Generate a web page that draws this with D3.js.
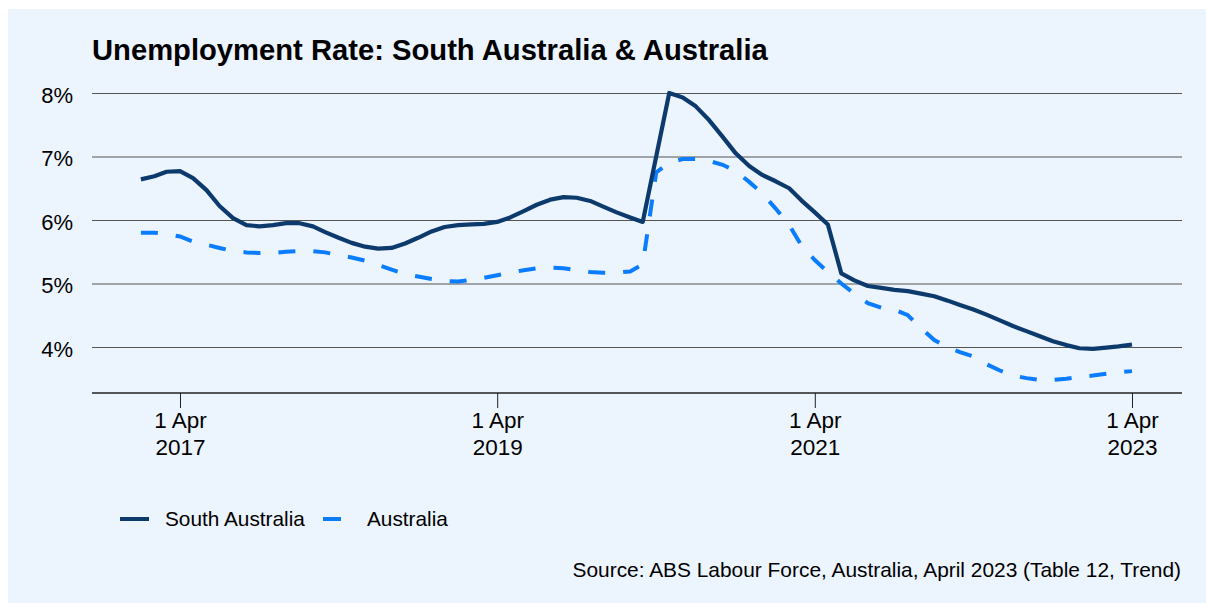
<!DOCTYPE html>
<html lang="en">
<head>
  <meta charset="UTF-8">
  <title>Unemployment Rate: South Australia & Australia</title>
  <style>
    body { margin: 0; background: #ffffff; }
    svg { display: block; font-family: "Liberation Sans", Arial, sans-serif; }
  </style>
</head>
<body>
  <svg id="chart" width="1206" height="603"></svg>

  <script src="https://cdn.jsdelivr.net/npm/d3@7"></script>
  <script type="text/javascript">

    // monthly, Jan 2017 .. Apr 2023 (trend)
    var startMonth = "2017-01";
    var southAustralia = [
      6.64, 6.69, 6.76, 6.77, 6.66, 6.47, 6.22, 6.03, 5.92, 5.90, 5.92, 5.95,
      5.95, 5.90, 5.81, 5.72, 5.64, 5.58, 5.55, 5.56, 5.63, 5.72, 5.82, 5.89,
      5.92, 5.93, 5.94, 5.97, 6.04, 6.14, 6.24, 6.32, 6.36, 6.35, 6.30, 6.21,
      6.12, 6.04, 5.97, null, 8.00, 7.93, 7.79, 7.57, 7.31, 7.05, 6.85, 6.71,
      6.61, 6.50, 6.31, 6.12, 5.93, 5.16, 5.05, 4.96, 4.93, 4.90, 4.88, 4.84,
      4.80, 4.73, 4.66, 4.59, 4.51, 4.42, 4.33, 4.25, 4.17, 4.09, 4.03, 3.98,
      3.97, 3.99, 4.01, 4.04
    ];
    var australia = [
      5.80, 5.80, 5.78, 5.74, 5.66, 5.61, 5.56, 5.51, 5.49, 5.48, 5.48, 5.50,
      5.51, 5.51, 5.49, 5.45, 5.41, 5.36, 5.29, 5.22, 5.15, 5.11, 5.07, 5.04,
      5.03, 5.06, 5.09, 5.13, 5.17, 5.21, 5.24, 5.25, 5.24, 5.21, 5.18, 5.17,
      5.17, 5.19, 5.30, 6.75, 6.90, 6.96, 6.96, 6.93, 6.87, 6.77, 6.60, 6.42,
      6.18, 5.92, 5.60, 5.37, 5.18, 5.00, 4.84, 4.69, 4.62, 4.59, 4.50, 4.30,
      4.11, 3.99, 3.92, 3.85, 3.73, 3.63, 3.55, 3.51, 3.48, 3.48, 3.50, 3.53,
      3.55, 3.58, 3.60, 3.62
    ];
    var yTicks = [4, 5, 6, 7, 8];
    var xTicks = ["2017-04", "2019-04", "2021-04", "2023-04"];
    var seriesNames = ["South Australia", "Australia"];

    var svg = d3.select("#chart"),
      parseMonth = d3.timeParse("%Y-%m"),
      start = parseMonth(startMonth),
      left = 92, right = 1182, axisY = 393;

    var x = d3.scaleTime()
      .domain([parseMonth("2017-04"), parseMonth("2023-04")])
      .range([180, 1132]);
    var y = d3.scaleLinear()
      .domain([4, 8])
      .range([347, 93]);

    function toPoints(values) {
      return values.map(function (v, i) {
        return { date: d3.timeMonth.offset(start, i), value: v };
      }).filter(function (d) { return d.value !== null; });
    }

    // background panel
    svg.append("rect")
      .attr("x", 8).attr("y", 9)
      .attr("width", 1198).attr("height", 594)
      .attr("fill", "#ecf4fe");

    svg.append("text")
      .attr("x", 92).attr("y", 60)
      .attr("font-size", 29.2).attr("font-weight", "bold")
      .attr("fill", "#000")
      .text("Unemployment Rate: South Australia & Australia");

    // gridlines + y labels
    var yAxis = svg.append("g")
      .attr("transform", "translate(" + left + ",0)")
      .call(d3.axisLeft(y).tickValues(yTicks)
        .tickSize(-(right - left)).tickPadding(19)
        .tickFormat(function (d) { return d + "%"; }));
    yAxis.select(".domain").remove();
    yAxis.selectAll(".tick line").attr("stroke", "#555").attr("stroke-width", 1.2);
    yAxis.selectAll(".tick text")
      .attr("font-size", 22).attr("fill", "#000")
      .attr("font-family", "Liberation Sans, Arial, sans-serif")
      .attr("dy", "0.42em");

    // x axis
    var xAxis = svg.append("g")
      .attr("transform", "translate(0," + axisY + ")")
      .call(d3.axisBottom(x).tickValues(xTicks.map(parseMonth))
        .tickSize(15).tickSizeOuter(0).tickFormat(""));
    xAxis.select(".domain")
      .attr("d", "M" + left + ",0H" + right)
      .attr("stroke", "#222").attr("stroke-width", 1.5);
    xAxis.selectAll(".tick line").attr("stroke", "#222");
    xAxis.selectAll(".tick").each(function (d) {
      var t = d3.select(this).append("text")
        .attr("fill", "#000").attr("font-size", 22.5)
        .attr("font-family", "Liberation Sans, Arial, sans-serif")
        .attr("text-anchor", "middle");
      t.append("tspan").attr("x", 0).attr("y", 35).text("1 " + d3.timeFormat("%b")(d));
      t.append("tspan").attr("x", 0).attr("y", 62).text(d3.timeFormat("%Y")(d));
    });

    var line = d3.line()
      .x(function (d) { return x(d.date); })
      .y(function (d) { return y(d.value); });

    svg.append("path")
      .datum(toPoints(australia))
      .attr("d", line)
      .attr("fill", "none")
      .attr("stroke", "#0a7cff")
      .attr("stroke-width", 4)
      .attr("stroke-dasharray", "17,18");

    svg.append("path")
      .datum(toPoints(southAustralia))
      .attr("d", line)
      .attr("fill", "none")
      .attr("stroke", "#0d3a6c")
      .attr("stroke-width", 4.2)
      .attr("stroke-linejoin", "round");

    // legend
    var legend = svg.append("g").attr("transform", "translate(0,519)");
    var legendItems = [
      { name: seriesNames[0], x: 120, color: "#0d3a6c", dash: null, tx: 165 },
      { name: seriesNames[1], x: 323, color: "#0a7cff", dash: "18,30", tx: 367 }
    ];
    legendItems.forEach(function (it) {
      legend.append("line")
        .attr("x1", it.x).attr("x2", it.x + 29)
        .attr("y1", 0).attr("y2", 0)
        .attr("stroke", it.color).attr("stroke-width", 4)
        .attr("stroke-dasharray", it.dash);
      legend.append("text")
        .attr("x", it.tx).attr("y", 7)
        .attr("font-size", 20.8).attr("fill", "#000")
        .text(it.name);
    });

    svg.append("text")
      .attr("x", 1181).attr("y", 577)
      .attr("text-anchor", "end")
      .attr("font-size", 20.9).attr("fill", "#000")
      .text("Source: ABS Labour Force, Australia, April 2023 (Table 12, Trend)");
  </script>
</body>
</html>
